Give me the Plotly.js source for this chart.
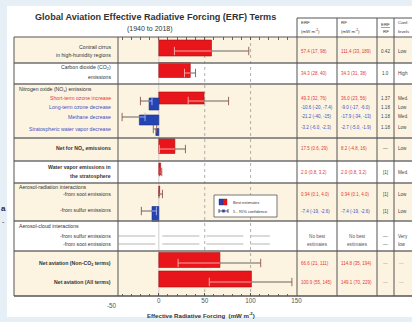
<!DOCTYPE html>
<html><head><meta charset="utf-8">
<script src="https://cdn.plot.ly/plotly-3.0.1.min.js"></script>
<style>html,body{margin:0;padding:0;background:#e6eef6;}#chart{width:412px;height:322px;}</style>
</head><body><div id="chart"></div>
<script>
// ---------------- DATA ----------------
const barTerms   = ['Contrail cirrus','CO2','Short-term ozone increase','Long-term ozone decrease','Methane decrease','Stratospheric water vapor decrease','Net for NOx','Water vapor','Soot','Sulfur','Net aviation (Non-CO2)','Net aviation (All)'];
const erfBest    = [57.4, 34.3, 49.3, -10.6, -21.2, -3.2, 17.5, 2.0, 0.94, -7.4, 66.6, 100.9];
const erfLow     = [17,   28,   32,   -20,   -40,   -6.0, 0.6,  0.8, 0.1, -19,  21,   55];
const erfHigh    = [98,   40,   76,   -7.4,  -15,   -2.3, 29,   3.2, 4.0, -2.6, 111,  145];

const erfText  = ['57.4 (17, 98)','34.3 (28, 40)','49.3 (32, 76)','-10.6 (-20, -7.4)','-21.2 (-40, -15)','-3.2 (-6.0, -2.3)','17.5 (0.6, 29)','2.0 (0.8, 3.2)','0.94 (0.1, 4.0)','-7.4 (-19, -2.6)','No best','estimates','66.6 (21, 111)','100.9 (55, 145)'];
const rfText   = ['111.4 (33, 189)','34.3 (31, 38)','36.0 (23, 56)','-9.0 (-17, -6.0)','-17.9 (-34, -13)','-2.7 (-5.0, -1.9)','8.2 (-4.8, 16)','2.0 (0.8, 3.2)','0.94 (0.1, 4.0)','-7.4 (-19, -2.6)','No best','estimates','114.8 (35, 194)','149.1 (70, 229)'];
const ratioText= ['0.42','1.0','1.37','1.18','1.18','1.18','—','[1]','[1]','[1]','—','—','—','—'];
const confText = ['Low','High','Med.','Low','Med.','Low','Low','Med.','Low','Low','Very','low','—','—'];
const tableKind= ['r','r','r','b','b','b','r','r','r','b','g','g','r','r'];

const labelText = ['Contrail cirrus','in high-humidity regions','Carbon dioxide (CO<sub>2</sub>)','emissions',
  'Nitrogen oxide (NO<sub>x</sub>) emissions','Short-term ozone increase','Long-term ozone decrease','Methane decrease',
  'Stratospheric water vapor decrease','<b>Net for NO<sub>x</sub> emissions</b>','<b>Water vapor emissions in</b>','<b>the stratosphere</b>',
  'Aerosol-radiation interactions','-from soot emissions','-from sulfur emissions','Aerosol-cloud interactions',
  '-from sulfur emissions','-from soot emissions','<b>Net aviation (Non-CO<sub>2</sub> terms)</b>','<b>Net aviation (All terms)</b>'];
const labelKind = ['d','d','d','d','h','r','b','b','b','d','d','d','h','d','d','h','d','d','d','d'];

const xTickVals = [0, 50, 100, 150];
const noEstimateSpan = [-44, 121];

// ---------------- LAYOUT CONSTANTS (pixels) ----------------
const W = 412, H = 322;
const px = x => x / W, py = y => 1 - y / H;
const barY     = [51, 73, 101, 101, 117, 129, 149, 172, 194, 211, 263, 282];
const barW     = [16, 15, 12, 12, 10, 7, 15, 12, 10, 15, 15, 16];
const tableY   = [51, 73, 98, 107, 117, 128, 149, 172, 194, 211, 236, 244, 263, 282];
const labelY   = [47, 55, 68, 77, 89, 98, 107, 117, 129, 149, 167, 176, 187, 194, 210, 226, 236, 244, 263, 282];
const noEstY   = [236, 244];
const rowBounds = [37, 63, 84, 138, 161, 183, 221, 251, 296];
const cream = '#fcf4e1';
const rowFill = [cream, '#ffffff', cream, cream, '#ffffff', cream, '#ffffff', cream];
const RED = '#e8161b', BLUE = '#2443b5';
const TRED = '#e2383a', TBLUE = '#3b52c6', DARK = '#333333';
const FONT = 'Liberation Sans, Arial, sans-serif';

// ---------------- TRACES ----------------
const traces = [];
const pos = erfBest.map((v,i)=> v>=0 ? i : -1).filter(i=>i>=0);
const neg = erfBest.map((v,i)=> v<0 ? i : -1).filter(i=>i>=0);
function barTrace(idx, fill, line){
  return {type:'bar', orientation:'h', x: idx.map(i=>erfBest[i]), y: idx.map(i=>barY[i]), width: idx.map(i=>barW[i]),
    marker:{color:fill, line:{color:line, width:0.6}}, hoverinfo:'skip', showlegend:false};
}
traces.push(barTrace(pos, RED, '#a50f12'));
traces.push(barTrace(neg, BLUE, '#172f80'));

// error bars: parts inside the bar in a light tint, parts outside dark
const darkX=[], darkY=[], lightRX=[], lightRY=[], lightBX=[], lightBY=[];
const capDX=[], capDY=[], capLX=[], capLY=[], capLC=[];
erfBest.forEach((v,i)=>{
  const lo=erfLow[i], hi=erfHigh[i], y=barY[i];
  const bMin=Math.min(0,v), bMax=Math.max(0,v);
  if (lo < bMin){ darkX.push(lo, Math.min(hi,bMin), null); darkY.push(y,y,null); }
  if (hi > bMax){ darkX.push(Math.max(lo,bMax), hi, null); darkY.push(y,y,null); }
  const a=Math.max(lo,bMin), b=Math.min(hi,bMax);
  if (b > a){
    if (v>=0){ lightRX.push(a,b,null); lightRY.push(y,y,null); }
    else { lightBX.push(a,b,null); lightBY.push(y,y,null); }
  }
  [lo,hi].forEach(e=>{
    if (e>=bMin && e<=bMax && Math.abs(v)>4){ capLX.push(e); capLY.push(y); capLC.push(v>=0?'#f7b3b3':'#a9b7ee'); }
    else { capDX.push(e); capDY.push(y); }
  });
});
traces.push({type:'scatter',mode:'lines',x:darkX,y:darkY,line:{color:'#555',width:0.9},hoverinfo:'skip',showlegend:false});
traces.push({type:'scatter',mode:'lines',x:lightRX,y:lightRY,line:{color:'#f7b3b3',width:0.9},hoverinfo:'skip',showlegend:false});
traces.push({type:'scatter',mode:'lines',x:lightBX,y:lightBY,line:{color:'#a9b7ee',width:0.9},hoverinfo:'skip',showlegend:false});
traces.push({type:'scatter',mode:'markers',x:capDX,y:capDY,marker:{symbol:'line-ns-open',size:6,line:{color:'#555',width:0.9}},hoverinfo:'skip',showlegend:false});
traces.push({type:'scatter',mode:'markers',x:capLX,y:capLY,marker:{symbol:'line-ns-open',size:6,color:capLC,line:{color:capLC,width:0.9}},hoverinfo:'skip',showlegend:false});
// aerosol-cloud: no best estimates (dashed gray lines)
noEstY.forEach(y=>traces.push({type:'scatter',mode:'lines',x:noEstimateSpan,y:[y,y],line:{color:'#b5b5b5',width:1,dash:'37px,7px'},hoverinfo:'skip',showlegend:false}));
// dummy for top axis
traces.push({type:'scatter',mode:'markers',x:[0],y:[100],xaxis:'x2',yaxis:'y',marker:{opacity:0},hoverinfo:'skip',showlegend:false});

// ---------------- SHAPES ----------------
const shapes = [];
const R = (x0,y0,x1,y1,fill,line,lw,layer)=>({type:'rect',xref:'paper',yref:'paper',x0:px(x0),x1:px(x1),y0:py(y0),y1:py(y1),fillcolor:fill,line:{color:line||'rgba(0,0,0,0)',width:lw||0},layer:layer||'below'});
const L = (x0,y0,x1,y1,color,w,dash,layer)=>({type:'line',xref:'paper',yref:'paper',x0:px(x0),x1:px(x1),y0:py(y0),y1:py(y1),line:{color:color,width:w,dash:dash||'solid'},layer:layer||'above'});
shapes.push(R(7,6,412,317,'#ffffff'));
for (let k=0;k<rowFill.length;k++) shapes.push(R(14,rowBounds[k],412,rowBounds[k+1],rowFill[k]));
// gridlines
shapes.push({type:'line',xref:'x',yref:'paper',x0:0,x1:0,y0:py(37),y1:py(296),line:{color:'#c4c4c4',width:0.8},layer:'below'});
[50,100].forEach(g=>shapes.push({type:'line',xref:'x',yref:'paper',x0:g,x1:g,y0:py(37),y1:py(296),line:{color:'#9a9a9a',width:0.8,dash:'dot'},layer:'below'}));
// table lines
rowBounds.forEach((y,k)=>shapes.push(L(14,y,412,y,(k===0||k===rowBounds.length-1)?'#555':'#6f6f6f',(k===0)?1:1.6)));
shapes.push(L(297,18,412,18,'#555',1));
shapes.push(L(14,37,14,296,'#555',1));
shapes.push(L(118,37,118,296,'#555',1));
[297,337,377,394].forEach(x=>shapes.push(L(x,18,x,296,'#555',1)));
shapes.push(L(381,27.5,390,27.5,'#444',0.5));
// legend box
shapes.push(R(214,195,277,217,'#ffffff','#555',0.8,'above'));
shapes.push(R(219,199,223,205,BLUE,'#172f80',0.4,'above'));
shapes.push(R(223,199,227,205,RED,'#a50f12',0.4,'above'));
shapes.push(L(219,211,228,211,'#333',0.8));
shapes.push(L(219,209,219,213,'#333',0.8));
shapes.push(L(228,209,228,213,'#333',0.8));
shapes.push(R(222.3,209.7,224.7,212.3,BLUE,BLUE,0.2,'above'));

// ---------------- ANNOTATIONS ----------------
const ann = [];
const A = (x,y,text,o)=>Object.assign({xref:'paper',yref:'paper',x:px(x),y:py(y),text:text,showarrow:false,xanchor:'left',yanchor:'middle',font:{family:FONT,size:4.5,color:DARK}},o||{});
ann.push(A(155,17,'<b>Global Aviation Effective Radiative Forcing (ERF) Terms</b>',{xanchor:'center',font:{family:FONT,size:9.1,color:'#333'}}));
ann.push(A(150,29,'(1940 to 2018)',{xanchor:'center',font:{family:FONT,size:7,color:'#333'}}));
// header
ann.push(A(299,23,'ERF',{font:{family:FONT,size:4.4,color:DARK}}));
ann.push(A(299,31,'(mW m<sup>-2</sup>)',{font:{family:FONT,size:4.4,color:DARK}}));
ann.push(A(339,23,'RF',{font:{family:FONT,size:4.4,color:DARK}}));
ann.push(A(339,31,'(mW m<sup>-2</sup>)',{font:{family:FONT,size:4.4,color:DARK}}));
ann.push(A(385.5,24,'ERF',{xanchor:'center',font:{family:FONT,size:4.4,color:DARK}}));
ann.push(A(385.5,31,'RF',{xanchor:'center',font:{family:FONT,size:4.4,color:DARK}}));
ann.push(A(396,23,'Conf.',{font:{family:FONT,size:4.4,color:DARK}}));
ann.push(A(396,31,'levels',{font:{family:FONT,size:4.4,color:DARK}}));
// labels
const kindColor = {d:DARK, h:DARK, r:TRED, b:TBLUE, g:'#555'};
labelText.forEach((t,i)=>{
  const left = labelKind[i]==='h';
  ann.push(A(left?17:113, labelY[i], t, {xanchor:left?'left':'right', font:{family:FONT,size:5.2,color:kindColor[labelKind[i]]}}));
});
// table values
erfText.forEach((t,i)=>{
  const k = tableKind[i];
  const c = kindColor[k];
  if (k==='g'){
    ann.push(A(317,tableY[i],t,{xanchor:'center',font:{family:FONT,size:4.7,color:'#555'}}));
    ann.push(A(357,tableY[i],rfText[i],{xanchor:'center',font:{family:FONT,size:4.7,color:'#555'}}));
  } else {
    ann.push(A(299,tableY[i],t,{font:{family:FONT,size:4.5,color:c}}));
    ann.push(A(339,tableY[i],rfText[i],{font:{family:FONT,size:4.5,color:c}}));
  }
  ann.push(A(385.5,tableY[i],ratioText[i],{xanchor:'center',font:{family:FONT,size:4.6,color:i>=12?'#999':'#444'}}));
  ann.push(A(i>=12?397:396,tableY[i],confText[i],{font:{family:FONT,size:4.6,color:i>=12?'#aaa':'#444'}}));
});
// legend text
ann.push(A(231,202,'Best estimates',{font:{family:FONT,size:4,color:'#333'}}));
ann.push(A(231,211,'5 - 95% confidence',{font:{family:FONT,size:4,color:'#333'}}));
// axis extras
ann.push(A(112,305,'-50',{xanchor:'center',font:{family:FONT,size:6.3,color:'#555'}}));
ann.push(A(201,315,'<b>Effective Radiative Forcing  (mW m<sup>-2</sup>)</b>',{xanchor:'center',font:{family:FONT,size:6.1,color:'#333'}}));
// fragments of neighbouring page at the left edge
ann.push(A(3,209,'<b>a</b>',{xanchor:'center',font:{family:FONT,size:8,color:'#1e2a44'}}));
ann.push(A(3,221,'-',{xanchor:'center',font:{family:FONT,size:7,color:'#1e2a44'}}));

// ---------------- LAYOUT ----------------
const layout = {
  width:W, height:H, margin:{l:0,r:0,t:0,b:0,pad:0},
  paper_bgcolor:'#e6eef6', plot_bgcolor:'rgba(0,0,0,0)', showlegend:false, bargap:0,
  xaxis:{domain:[px(117.5),px(296.5)], range:[-45,150], tickvals:xTickVals, ticks:'inside', ticklen:3, tickwidth:0.8, tickcolor:'#444',
    minor:{dtick:10, tick0:0, ticks:'inside', ticklen:2.5, tickwidth:0.8, tickcolor:'#444'},
    showgrid:false, zeroline:false, showline:false, tickfont:{family:FONT,size:6.3,color:'#555'}, fixedrange:true, anchor:'y'},
  xaxis2:{overlaying:'x', matches:'x', side:'top', anchor:'y', tickvals:[], ticks:'inside', showticklabels:false, showgrid:false, zeroline:false,
    minor:{dtick:10, tick0:0, ticks:'inside', ticklen:2.5, tickwidth:0.8, tickcolor:'#444'}},
  yaxis:{domain:[py(296),py(37)], range:[296,37], showticklabels:false, showgrid:false, zeroline:false, ticks:'', fixedrange:true},
  shapes:shapes, annotations:ann,
  font:{family:FONT}
};
Plotly.newPlot('chart', traces, layout, {displayModeBar:false, staticPlot:true});
</script></body></html>
